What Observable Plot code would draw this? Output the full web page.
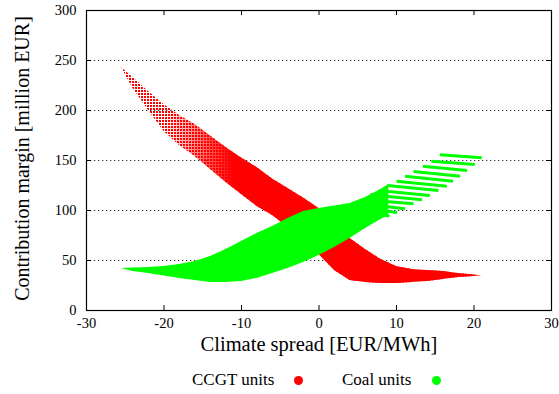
<!DOCTYPE html>
<html>
<head>
<meta charset="utf-8">
<script src="https://cdn.jsdelivr.net/npm/d3@7"></script>
<script src="https://cdn.jsdelivr.net/npm/@observablehq/plot@0.6"></script>
<style>
  html, body { margin: 0; padding: 0; background: #fff; }
  #wrap { position: relative; width: 559px; height: 394px; overflow: hidden; }
  #legend { position: absolute; top: 362px; left: 0; width: 559px; height: 36px;
            font-family: "Liberation Serif", serif; font-size: 17px; color: #000; }
  #legend span.t { position: absolute; top: 0; line-height: 36px; white-space: nowrap; }
  #legend span.d { position: absolute; top: 13.5px; width: 9px; height: 9px; border-radius: 50%; }
</style>
</head>
<body>
<div id="wrap">
  <div id="chart"></div>
  <div id="legend">
    <span class="t" style="left:192px">CCGT units</span>
    <span class="d" style="left:293.5px; background:#ff0000"></span>
    <span class="t" style="left:342px">Coal units</span>
    <span class="d" style="left:431.5px; background:#00ff00"></span>
  </div>
</div>
<script>
// Axis ticks
const xTicks = [-30, -20, -10, 0, 10, 20, 30];
const yTicks = [0, 50, 100, 150, 200, 250, 300];
const gridY = [50, 100, 150, 200, 250];

// CCGT units: envelope of the point cloud
const redX     = [-25.5, -24, -22, -20, -18, -16, -14, -12, -10, -8, -6, -4, -2, 0, 2, 4, 6, 8, 10, 12, 14, 16, 18, 20, 21];
const redUpper = [243, 233, 219, 206, 195, 186, 174.5, 163, 152.5, 143, 131.5, 122, 112.5, 102, 88, 72, 61, 51, 44, 41, 40, 39, 37, 35.5, 34.5];
const redLower = [243, 222, 200, 179, 165, 154, 141, 128, 116, 104, 95, 83, 70, 56, 40, 30, 28, 27, 27, 28, 29, 31, 33, 34, 34.5];

// Coal units: dense part of the point cloud
const greenX     = [-25.5, -24, -22, -20, -18, -16, -14, -12, -10, -8, -6, -4, -2, 0, 2, 4, 6, 8, 9];
const greenUpper = [42, 42.5, 43, 44, 46, 49, 54, 61, 69, 77, 84, 92, 99, 102, 104.5, 107, 113, 121, 126];
const greenLower = [42, 39, 37, 34.5, 32, 30, 28, 28, 29, 32, 37, 42, 48, 55, 63, 72, 82, 91, 95];

// Coal units: separate streaks at the upper right (start x,y -> end x,y)
const streakX1 = [15.6, 14.5, 13.4, 12.2, 11.1, 10.0, 8.8, 7.7, 6.6, 5.5, 4.4, 3.3, 2.2];
const streakY1 = [155.7, 149.3, 144.3, 139, 134.3, 129.3, 125, 120, 115.7, 111, 107.7, 104.5, 103];
const streakX2 = [21.0, 20.1, 19.1, 18.2, 17.3, 16.5, 15.4, 14.3, 13.3, 12.2, 11.1, 10.1, 9.1];
const streakY2 = [152.7, 146, 140, 134.3, 129.3, 124.3, 120, 115, 110.7, 106.7, 101.7, 98, 94.5];

const red = redX.map((x, i) => ({x, lo: redLower[i], hi: redUpper[i]}));
const green = greenX.map((x, i) => ({x, lo: greenLower[i], hi: greenUpper[i]}));
const streaks = streakX1.map((x1, i) => ({x1, y1: streakY1[i], x2: streakX2[i], y2: streakY2[i]}));

const fmt = d => String(d);
const RED = "#ff0000", GREEN = "#00ff00";
const W = 559, H = 362, ML = 86, MR = 8, MT = 10, MB = 52;
const FW = W - ML - MR, FH = H - MT - MB;

const chart = Plot.plot({
  width: W,
  height: H,
  marginLeft: ML,
  marginRight: MR,
  marginTop: MT,
  marginBottom: MB,
  style: {fontFamily: "'Liberation Serif', serif", fontSize: "14.5px", background: "#fff", color: "#000"},
  x: {domain: [-30, 30], ticks: xTicks, tickSize: 0, tickPadding: 7, tickFormat: fmt, label: null},
  y: {domain: [0, 300], ticks: yTicks, tickSize: 0, tickPadding: 10, tickFormat: fmt, label: null},
  marks: [
    Plot.ruleY(gridY, {stroke: "#333", strokeWidth: 1, strokeDasharray: "1.3,2.7"}),
    Plot.areaY(red, {x: "x", y1: "lo", y2: "hi", fill: "url(#redDots)"}),
    Plot.areaY(red, {x: "x", y1: "lo", y2: "hi", fill: "url(#redFade)"}),
    Plot.areaY(green, {x: "x", y1: "lo", y2: "hi", fill: GREEN}),
    Plot.link(streaks, {x1: "x1", y1: "y1", x2: "x2", y2: "y2", stroke: GREEN, strokeWidth: 3}),
    Plot.frame({stroke: "#000", strokeWidth: 1.2}),
    // inward tick marks on all four sides
    Plot.ruleX(xTicks, {insetTop: FH - 5, stroke: "#000"}),
    Plot.ruleX(xTicks, {insetBottom: FH - 5, stroke: "#000"}),
    Plot.ruleY(yTicks, {insetRight: FW - 5, stroke: "#000"}),
    Plot.ruleY(yTicks, {insetLeft: FW - 5, stroke: "#000"}),
    Plot.text(["Climate spread [EUR/MWh]"], {frameAnchor: "bottom", dy: 40, fontSize: 20.5, fill: "#000", textAnchor: "middle"}),
    Plot.text(["Contribution margin [million EUR]"], {frameAnchor: "left", dx: -64, dy: -2, rotate: -90, fontSize: 20, fill: "#000", textAnchor: "middle"})
  ]
});

// Patterns for the sparse dotted upper-left part of the CCGT cloud
const xs = chart.scale("x");
const gx1 = xs.apply(-20), gx2 = xs.apply(-11);
const ns = "http://www.w3.org/2000/svg";
const defs = document.createElementNS(ns, "defs");
defs.innerHTML = `
  <pattern id="redDots" patternUnits="userSpaceOnUse" width="3" height="3">
    <rect x="0" y="0" width="2" height="2" fill="${RED}"></rect>
  </pattern>
  <linearGradient id="redFade" gradientUnits="userSpaceOnUse" x1="${gx1}" y1="0" x2="${gx2}" y2="0">
    <stop offset="0" stop-color="${RED}" stop-opacity="0"></stop>
    <stop offset="1" stop-color="${RED}" stop-opacity="1"></stop>
  </linearGradient>`;
chart.insertBefore(defs, chart.firstChild);

document.getElementById("chart").appendChild(chart);
</script>
</body>
</html>
